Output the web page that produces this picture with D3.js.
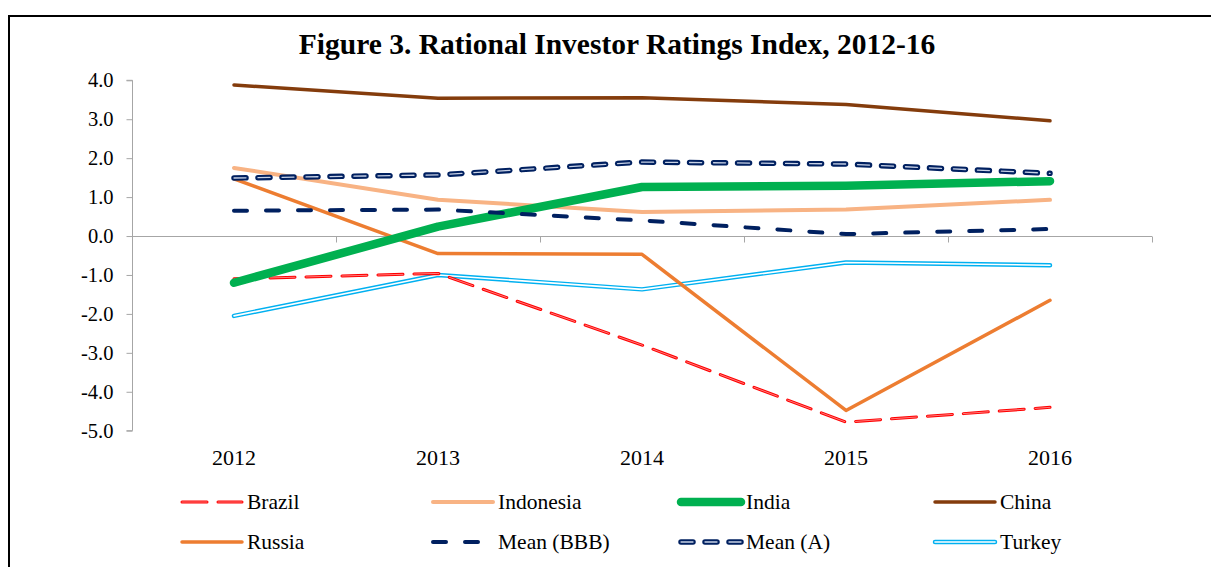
<!DOCTYPE html>
<html>
<head>
<meta charset="utf-8">
<script src="https://cdn.jsdelivr.net/npm/d3@7"></script>
<style>
  html, body { margin: 0; padding: 0; background: #fff; }
  svg { display: block; font-family: "Liberation Serif", "Times New Roman", serif; }
</style>
</head>
<body>
<svg id="chart" width="1211" height="567"></svg>
<script>
// Values.
const years = ["2012", "2013", "2014", "2015", "2016"];
const yTicks = [4, 3, 2, 1, 0, -1, -2, -3, -4, -5];

const brazil    = [-1.10, -0.96, -2.80, -4.78, -4.40];
const indonesia = [1.75, 0.93, 0.62, 0.68, 0.93];
const india     = [-1.20, 0.24, 1.26, 1.29, 1.41];
const china     = [3.88, 3.54, 3.55, 3.38, 2.96];
const russia    = [1.47, -0.45, -0.47, -4.48, -1.65];
const meanBBB   = [0.65, 0.68, 0.40, 0.05, 0.18];
const meanA     = [1.49, 1.57, 1.90, 1.85, 1.61];
const turkey    = [-2.05, -1.00, -1.37, -0.68, -0.75];

const seriesNames = ["Brazil", "Indonesia", "India", "China", "Russia", "Mean (BBB)", "Mean (A)", "Turkey"];
const seriesValues = [brazil, indonesia, india, china, russia, meanBBB, meanA, turkey];

// Stroke styling per series: list of layers drawn on top of each other.
const styles = {
  "Brazil":     [{ c: "#ff0000", w: 3, d: "25,11" }, { c: "#ff9a9a", w: 0.8, d: "25,11" }],
  "Indonesia":  [{ c: "#f8b384", w: 4 }],
  "India":      [{ c: "#00b050", w: 8.5 }],
  "China":      [{ c: "#843c0c", w: 3.5 }],
  "Russia":     [{ c: "#ed7d31", w: 3.5 }],
  "Mean (BBB)": [{ c: "#002060", w: 4, d: "13,19" }],
  "Mean (A)":   [{ c: "#002060", w: 5.5, d: "12,12" }, { c: "#c8d2e6", w: 1.3, d: "12,12" }],
  "Turkey":     [{ c: "#00b0f0", w: 4.5 }, { c: "#ffffff", w: 1.6 }]
};
// Drawing order (bottom to top)
const drawOrder = ["Turkey", "Brazil", "Indonesia", "China", "Russia", "India", "Mean (BBB)", "Mean (A)"];

const svg = d3.select("#chart");

// outer frame (top + left edges visible)
svg.append("path")
  .attr("d", "M9,1000 V16 H1211")
  .attr("fill", "none")
  .attr("stroke", "#000")
  .attr("stroke-width", 2);

svg.append("text")
  .attr("x", 617)
  .attr("y", 54)
  .attr("text-anchor", "middle")
  .attr("font-weight", "bold")
  .attr("font-size", 29.5)
  .text("Figure 3. Rational Investor Ratings Index, 2012-16");

const x0 = 132, x1 = 1152;
const x = d3.scaleBand().domain(years).range([x0, x1]);
const y = d3.scaleLinear().domain([-5, 4]).range([430.7, 80.3]);

// y axis
const yAxis = svg.append("g")
  .attr("transform", `translate(${x0 + 0.5},0)`)
  .call(d3.axisLeft(y).tickValues(yTicks).tickFormat(d3.format(".1f")).tickSize(6).tickPadding(13));
yAxis.select(".domain").attr("stroke", "#a6a6a6").attr("d", `M-6,${y(4)}H0V${y(-5)}H-6`);
yAxis.selectAll(".tick line").attr("stroke", "#a6a6a6");
yAxis.attr("font-family", null).attr("font-size", null);
yAxis.selectAll(".tick text")
  .attr("font-size", 20.5)
  .attr("fill", "#000")
  .text(d => d3.format(".1f")(d).replace("−", "-"));

// x axis along zero line, with category boundary ticks pointing down
const zeroY = Math.round(y(0)) + 0.5;
svg.append("line")
  .attr("x1", x0).attr("x2", x1)
  .attr("y1", zeroY).attr("y2", zeroY)
  .attr("stroke", "#a6a6a6");
const bounds = years.map(yr => x(yr)).concat([x1]);
svg.selectAll(".xb").data(bounds).join("line")
  .attr("x1", d => Math.round(d) + 0.5).attr("x2", d => Math.round(d) + 0.5)
  .attr("y1", zeroY).attr("y2", zeroY + 6)
  .attr("stroke", "#a6a6a6");

// x labels at the bottom
svg.selectAll(".xl").data(years).join("text")
  .attr("x", d => x(d) + x.bandwidth() / 2)
  .attr("y", 465)
  .attr("text-anchor", "middle")
  .attr("font-size", 22)
  .text(d => d);

const line = d3.line()
  .x((d, i) => x(years[i]) + x.bandwidth() / 2)
  .y(d => y(d));

const plot = svg.append("g");
drawOrder.forEach(name => {
  const vals = seriesValues[seriesNames.indexOf(name)];
  styles[name].forEach(s => {
    plot.append("path")
      .datum(vals)
      .attr("d", line)
      .attr("fill", "none")
      .attr("stroke", s.c)
      .attr("stroke-width", s.w)
      .attr("stroke-linecap", "round")
      .attr("stroke-linejoin", "round")
      .attr("stroke-dasharray", s.d || null);
  });
});

// legend: 2 rows x 4 columns
const legCols = [182, 433, 681, 935];
const legRows = [502, 542];
const legLen = 60;
const legend = svg.append("g");
seriesNames.forEach((name, i) => {
  const cx = legCols[i % 4];
  const cy = legRows[Math.floor(i / 4)];
  const g = legend.append("g");
  styles[name].forEach(s => {
    g.append("line")
      .attr("x1", cx).attr("x2", cx + legLen)
      .attr("y1", cy).attr("y2", cy)
      .attr("stroke", s.c)
      .attr("stroke-width", s.w)
      .attr("stroke-linecap", "round")
      .attr("stroke-dasharray", s.d || null);
  });
  g.append("text")
    .attr("x", cx + legLen + 5)
    .attr("y", cy + 7)
    .attr("font-size", 21.5)
    .text(name);
});
</script>
</body>
</html>
